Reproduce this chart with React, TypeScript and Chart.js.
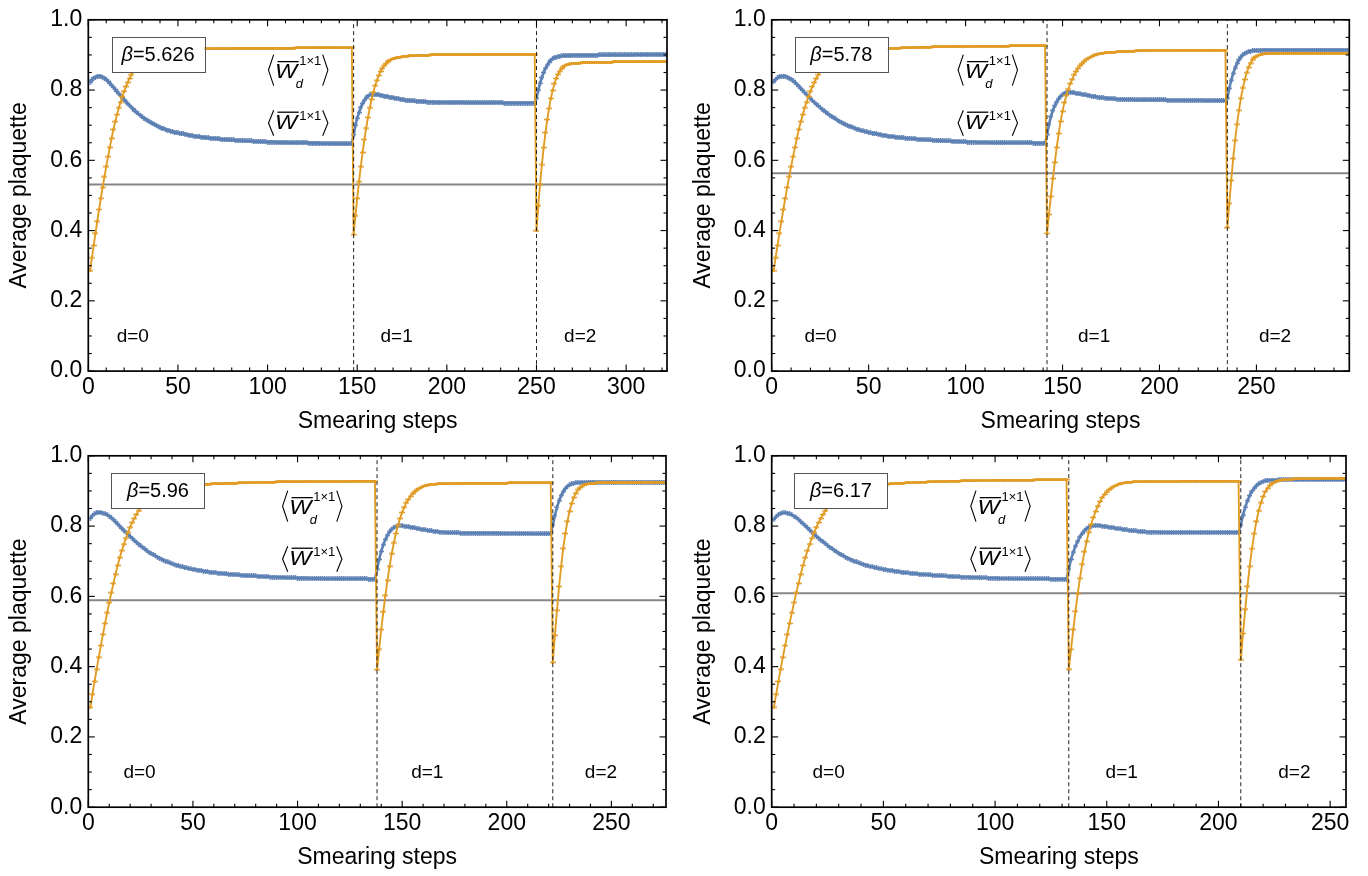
import React, { useEffect, useRef } from "react";
import { Chart, registerables } from "chart.js";
Chart.register(...registerables);

const FAMILY = "'Liberation Sans', Arial, Helvetica, sans-serif";
const ORANGE = "#E19C24";
const BLUE = "#5E81B5";

// ---------------- Panel 1 (beta = 5.626) ----------------
const P1_BETA = "5.626";
const P1_SEG_START = [1, 148, 250];
const P1_X_MAX = 322.8;
const P1_X_TICKS = [0, 50, 100, 150, 200, 250, 300];
const P1_REF = 0.531;
const P1_WD_D0 = [
  .285,.322,.358,.393,.427,.460,.492,.523,.553,.582,
  .610,.637,.663,.688,.710,.730,.749,.766,.782,.797,
  .810,.822,.833,.843,.852,.860,.867,.873,.879,.884,
  .888,.892,.895,.898,.900,.902,.904,.906,.907,.908,
  .909,.910,.911,.912,.912,.913,.913,.914,.914,.914,
  .915,.915,.915,.915,.916,.916,.916,.916,.916,.917,
  .917,.917,.917,.917,.917,.917,.917,.918,.918,.918,
  .918,.918,.918,.918,.918,.918,.918,.918,.918,.918,
  .919,.919,.919,.919,.919,.919,.919,.919,.919,.919,
  .919,.919,.919,.919,.919,.919,.919,.919,.919,.919,
  .919,.919,.919,.919,.919,.919,.919,.919,.919,.919,
  .919,.919,.919,.919,.919,.920,.920,.920,.920,.920,
  .920,.920,.920,.920,.920,.920,.920,.920,.920,.920,
  .920,.920,.920,.920,.920,.920,.920,.920,.920,.920,
  .920,.920,.920,.920,.920,.920,.920,
];
const P1_WD_D1 = [
  .388,.442,.492,.539,.582,.622,.659,.692,.722,.749,
  .773,.794,.812,.828,.842,.853,.862,.869,.875,.880,
  .884,.887,.889,.891,.892,.893,.894,.895,.895,.896,
  .896,.897,.897,.897,.898,.898,.898,.898,.899,.899,
  .899,.899,.899,.900,.900,.900,.900,.900,.900,.900,
  .901,.901,.901,.901,.901,.901,.901,.901,.901,.901,
  .901,.901,.901,.901,.901,.901,.901,.901,.901,.901,
  .902,.902,.902,.902,.902,.902,.902,.902,.902,.902,
  .902,.902,.902,.902,.902,.902,.902,.902,.902,.902,
  .902,.902,.902,.902,.902,.902,.902,.902,.902,.902,
  .902,.902,
];
const P1_WD_D2 = [
  .399,.470,.532,.587,.636,.679,.716,.748,.776,.799,
  .818,.833,.845,.854,.861,.866,.870,.872,.874,.875,
  .876,.876,.877,.877,.877,.878,.878,.878,.878,.879,
  .879,.879,.879,.879,.879,.879,.879,.879,.879,.879,
  .879,.879,.879,.880,.880,.880,.880,.880,.880,.880,
  .880,.880,.880,.880,.880,.880,.880,.880,.880,.880,
  .880,.880,.880,.880,.880,.880,.880,.880,.880,.880,
  .880,.880,.880,
];
const P1_W_D0 = [
  .822,.829,.834,.837,.839,.840,.839,.837,.834,.830,
  .825,.820,.814,.808,.802,.796,.790,.784,.778,.772,
  .767,.761,.756,.751,.746,.741,.736,.732,.728,.724,
  .720,.717,.714,.710,.707,.704,.702,.699,.697,.694,
  .692,.690,.688,.686,.685,.683,.682,.680,.679,.678,
  .677,.676,.675,.674,.673,.672,.671,.670,.669,.668,
  .668,.667,.666,.666,.665,.664,.664,.663,.663,.662,
  .662,.661,.661,.660,.660,.659,.659,.659,.658,.658,
  .658,.657,.657,.657,.656,.656,.656,.655,.655,.655,
  .655,.654,.654,.654,.654,.653,.653,.653,.653,.652,
  .652,.652,.652,.652,.651,.651,.651,.651,.651,.651,
  .650,.650,.650,.650,.650,.650,.650,.650,.650,.650,
  .650,.650,.649,.649,.649,.649,.649,.649,.649,.648,
  .648,.648,.648,.648,.648,.648,.647,.647,.647,.647,
  .647,.647,.647,.647,.647,.647,.647,
];
const P1_W_D1 = [
  .673,.700,.720,.736,.751,.762,.771,.778,.783,.786,
  .787,.788,.788,.787,.786,.785,.784,.783,.782,.781,
  .780,.779,.778,.777,.776,.775,.774,.773,.772,.771,
  .771,.770,.770,.769,.769,.768,.768,.768,.767,.767,
  .767,.766,.766,.766,.766,.765,.765,.765,.765,.765,
  .765,.765,.765,.765,.765,.765,.765,.765,.765,.765,
  .765,.765,.765,.764,.764,.764,.764,.764,.764,.764,
  .764,.764,.764,.764,.764,.764,.764,.764,.764,.764,
  .764,.764,.764,.764,.763,.763,.763,.763,.763,.763,
  .763,.763,.763,.763,.763,.763,.763,.763,.763,.763,
  .763,.763,
];
const P1_W_D2 = [
  .777,.800,.820,.836,.850,.862,.871,.879,.885,.889,
  .892,.894,.895,.896,.897,.897,.898,.898,.898,.898,
  .899,.899,.899,.899,.899,.899,.899,.899,.899,.899,
  .899,.899,.899,.899,.899,.900,.900,.900,.900,.900,
  .900,.900,.900,.900,.900,.900,.900,.900,.900,.900,
  .900,.900,.900,.900,.900,.901,.901,.901,.901,.901,
  .901,.901,.901,.901,.901,.901,.901,.901,.901,.901,
  .901,.901,.901,
];
const P1_D_LABEL_X = [24.8, 172, 274.4];
const P1_BOX = [38.9, 0.901];
const P1_LABEL_X = 116.8;

// ---------------- Panel 2 (beta = 5.78) ----------------
const P2_BETA = "5.78";
const P2_SEG_START = [1, 142, 235];
const P2_X_MAX = 297.9;
const P2_X_TICKS = [0, 50, 100, 150, 200, 250];
const P2_REF = 0.563;
const P2_WD_D0 = [
  .285,.322,.358,.393,.427,.460,.492,.523,.553,.582,
  .610,.637,.663,.688,.710,.730,.749,.766,.782,.797,
  .810,.822,.833,.843,.852,.860,.867,.873,.879,.884,
  .888,.892,.895,.898,.900,.902,.904,.906,.907,.908,
  .909,.910,.911,.912,.912,.913,.913,.914,.914,.915,
  .915,.915,.916,.916,.916,.917,.917,.917,.918,.918,
  .918,.918,.919,.919,.919,.919,.920,.920,.920,.920,
  .920,.921,.921,.921,.921,.921,.922,.922,.922,.922,
  .922,.922,.923,.923,.923,.923,.923,.923,.923,.924,
  .924,.924,.924,.924,.924,.924,.924,.924,.924,.924,
  .924,.924,.924,.925,.925,.925,.925,.925,.925,.925,
  .925,.925,.925,.925,.925,.925,.925,.925,.925,.925,
  .925,.925,.926,.926,.926,.926,.926,.926,.926,.926,
  .926,.926,.926,.926,.926,.926,.926,.926,.926,.926,
  .926,
];
const P2_WD_D1 = [
  .392,.446,.498,.548,.594,.637,.676,.711,.740,.765,
  .785,.803,.818,.831,.843,.853,.862,.869,.875,.881,
  .886,.890,.893,.896,.898,.900,.902,.903,.904,.905,
  .906,.906,.907,.907,.908,.908,.909,.909,.909,.910,
  .910,.910,.911,.911,.911,.911,.912,.912,.912,.912,
  .912,.912,.913,.913,.913,.913,.913,.913,.913,.913,
  .913,.913,.913,.913,.913,.913,.913,.913,.913,.913,
  .914,.914,.914,.914,.914,.914,.914,.914,.914,.914,
  .914,.914,.914,.914,.914,.914,.914,.914,.914,.914,
  .914,.914,.914,
];
const P2_WD_D2 = [
  .408,.478,.543,.605,.657,.703,.743,.777,.806,.830,
  .849,.865,.877,.886,.892,.896,.899,.901,.902,.903,
  .903,.904,.904,.904,.904,.904,.904,.905,.905,.905,
  .905,.905,.905,.905,.905,.905,.905,.905,.905,.905,
  .905,.905,.905,.905,.905,.905,.905,.905,.905,.905,
  .905,.905,.905,.905,.905,.905,.905,.905,.905,.905,
  .905,.905,.905,
];
const P2_W_D0 = [
  .823,.830,.835,.838,.839,.840,.839,.837,.834,.831,
  .827,.822,.817,.811,.805,.799,.793,.787,.781,.776,
  .770,.765,.760,.755,.750,.745,.741,.737,.733,.729,
  .725,.721,.718,.714,.711,.708,.705,.702,.700,.697,
  .695,.693,.691,.689,.687,.685,.684,.682,.681,.679,
  .678,.677,.676,.675,.674,.673,.672,.671,.670,.669,
  .668,.668,.667,.666,.666,.665,.664,.664,.663,.663,
  .662,.662,.661,.661,.660,.660,.659,.659,.659,.658,
  .658,.658,.657,.657,.657,.656,.656,.656,.655,.655,
  .655,.655,.654,.654,.654,.654,.653,.653,.653,.653,
  .652,.652,.652,.652,.652,.651,.651,.651,.651,.651,
  .651,.651,.650,.650,.650,.650,.650,.650,.650,.650,
  .650,.650,.650,.650,.650,.650,.650,.650,.650,.650,
  .650,.650,.650,.650,.649,.649,.649,.649,.649,.649,
  .649,
];
const P2_W_D1 = [
  .673,.702,.725,.742,.755,.766,.775,.782,.787,.791,
  .793,.794,.794,.793,.792,.791,.790,.789,.788,.787,
  .786,.785,.784,.783,.782,.781,.780,.779,.778,.778,
  .777,.777,.776,.776,.775,.775,.774,.774,.774,.774,
  .773,.773,.773,.773,.773,.772,.772,.772,.772,.772,
  .772,.772,.772,.772,.772,.772,.772,.772,.772,.772,
  .772,.772,.771,.771,.771,.771,.771,.771,.771,.771,
  .771,.771,.771,.771,.771,.771,.771,.771,.771,.771,
  .771,.770,.770,.770,.770,.770,.770,.770,.770,.770,
  .770,.770,.770,
];
const P2_W_D2 = [
  .777,.805,.828,.847,.863,.876,.886,.894,.900,.904,
  .907,.909,.911,.912,.913,.913,.913,.913,.914,.914,
  .914,.914,.914,.914,.914,.914,.914,.914,.914,.914,
  .914,.914,.914,.914,.914,.914,.914,.914,.914,.914,
  .914,.914,.914,.914,.914,.914,.914,.914,.914,.914,
  .914,.914,.914,.914,.914,.914,.914,.914,.914,.914,
  .914,.914,.914,
];
const P2_D_LABEL_X = [25.2, 166.3, 259.6];
const P2_BOX = [35.9, 0.901];
const P2_LABEL_X = 111.2;

// ---------------- Panel 3 (beta = 5.96) ----------------
const P3_BETA = "5.96";
const P3_SEG_START = [1, 138, 222];
const P3_X_MAX = 276.1;
const P3_X_TICKS = [0, 50, 100, 150, 200, 250];
const P3_REF = 0.589;
const P3_WD_D0 = [
  .285,.322,.358,.393,.427,.460,.492,.523,.553,.582,
  .610,.637,.663,.688,.710,.730,.749,.766,.782,.797,
  .810,.822,.833,.843,.852,.860,.867,.873,.879,.884,
  .888,.892,.895,.898,.900,.902,.904,.906,.907,.908,
  .910,.911,.912,.913,.914,.914,.915,.915,.916,.916,
  .917,.917,.918,.918,.918,.919,.919,.919,.920,.920,
  .920,.920,.921,.921,.921,.921,.922,.922,.922,.922,
  .922,.923,.923,.923,.923,.923,.924,.924,.924,.924,
  .924,.924,.925,.925,.925,.925,.925,.925,.925,.926,
  .926,.926,.926,.926,.926,.926,.926,.926,.926,.926,
  .926,.926,.926,.926,.927,.927,.927,.927,.927,.927,
  .927,.927,.927,.927,.927,.927,.927,.927,.927,.927,
  .927,.927,.927,.928,.928,.928,.928,.928,.928,.928,
  .928,.928,.928,.928,.928,.928,.928,
];
const P3_WD_D1 = [
  .391,.450,.505,.556,.603,.646,.686,.721,.752,.779,
  .802,.822,.839,.854,.866,.876,.885,.892,.898,.903,
  .907,.910,.913,.915,.916,.917,.918,.919,.919,.920,
  .920,.920,.920,.921,.921,.921,.921,.921,.921,.921,
  .922,.922,.922,.922,.922,.922,.922,.922,.922,.922,
  .922,.922,.922,.922,.922,.922,.922,.922,.922,.922,
  .922,.922,.922,.923,.923,.923,.923,.923,.923,.923,
  .923,.923,.923,.923,.923,.923,.923,.923,.923,.923,
  .923,.923,.923,.923,
];
const P3_WD_D2 = [
  .412,.489,.561,.628,.686,.737,.779,.814,.842,.864,
  .881,.894,.903,.909,.914,.917,.919,.920,.921,.922,
  .922,.923,.923,.923,.923,.924,.924,.924,.924,.924,
  .924,.924,.924,.924,.924,.924,.924,.924,.924,.924,
  .924,.924,.925,.925,.925,.925,.925,.925,.925,.925,
  .925,.925,.925,.925,.925,
];
const P3_W_D0 = [
  .822,.830,.835,.838,.839,.839,.837,.835,.832,.828,
  .823,.818,.812,.806,.800,.794,.788,.782,.776,.770,
  .765,.759,.754,.749,.744,.739,.735,.730,.726,.722,
  .719,.715,.712,.709,.706,.703,.700,.698,.695,.693,
  .691,.689,.687,.685,.684,.682,.681,.679,.678,.677,
  .676,.675,.674,.673,.672,.671,.670,.669,.668,.668,
  .667,.666,.666,.665,.664,.664,.663,.663,.662,.662,
  .661,.661,.660,.660,.659,.659,.659,.658,.658,.658,
  .657,.657,.657,.656,.656,.656,.655,.655,.655,.655,
  .654,.654,.654,.654,.653,.653,.653,.653,.653,.652,
  .652,.652,.652,.652,.652,.651,.651,.651,.651,.651,
  .651,.651,.651,.650,.650,.650,.650,.650,.650,.650,
  .650,.650,.650,.650,.650,.650,.650,.650,.650,.650,
  .650,.650,.650,.649,.649,.649,.649,
];
const P3_W_D1 = [
  .677,.705,.728,.747,.762,.774,.784,.791,.796,.799,
  .801,.801,.801,.800,.799,.798,.797,.796,.795,.793,
  .792,.791,.790,.789,.788,.787,.786,.785,.785,.784,
  .783,.783,.782,.782,.781,.781,.781,.781,.781,.781,
  .780,.780,.780,.780,.780,.780,.780,.780,.780,.780,
  .780,.780,.780,.780,.780,.780,.780,.780,.780,.779,
  .779,.779,.779,.779,.779,.779,.779,.779,.779,.779,
  .779,.779,.779,.779,.778,.778,.778,.778,.778,.778,
  .778,.778,.778,.778,
];
const P3_W_D2 = [
  .803,.831,.854,.872,.887,.898,.907,.913,.917,.920,
  .922,.923,.924,.924,.924,.924,.924,.925,.925,.925,
  .925,.925,.925,.925,.925,.925,.925,.925,.925,.925,
  .925,.925,.925,.925,.925,.925,.925,.925,.925,.925,
  .925,.925,.925,.925,.925,.925,.925,.925,.925,.925,
  .925,.925,.925,.925,.925,
];
const P3_D_LABEL_X = [24.5, 162, 245];
const P3_BOX = [33.3, 0.901];
const P3_LABEL_X = 106.8;

// ---------------- Panel 4 (beta = 6.17) ----------------
const P4_BETA = "6.17";
const P4_SEG_START = [1, 133, 210];
const P4_X_MAX = 257.1;
const P4_X_TICKS = [0, 50, 100, 150, 200, 250];
const P4_REF = 0.609;
const P4_WD_D0 = [
  .285,.322,.358,.393,.427,.460,.492,.523,.553,.582,
  .610,.637,.663,.688,.710,.730,.749,.766,.782,.797,
  .810,.822,.833,.843,.852,.860,.867,.873,.879,.884,
  .888,.892,.895,.898,.900,.902,.904,.906,.907,.908,
  .910,.911,.912,.913,.914,.915,.916,.917,.917,.918,
  .919,.919,.920,.920,.921,.921,.922,.922,.922,.923,
  .923,.923,.924,.924,.924,.925,.925,.925,.925,.926,
  .926,.926,.926,.927,.927,.927,.927,.927,.928,.928,
  .928,.928,.928,.928,.929,.929,.929,.929,.929,.929,
  .929,.930,.930,.930,.930,.930,.930,.930,.930,.930,
  .931,.931,.931,.931,.931,.931,.931,.931,.931,.931,
  .931,.931,.931,.931,.931,.931,.931,.932,.932,.932,
  .932,.932,.932,.932,.932,.932,.932,.932,.932,.932,
  .932,.932,
];
const P4_WD_D1 = [
  .393,.450,.506,.558,.607,.652,.692,.727,.757,.783,
  .805,.825,.842,.857,.870,.881,.890,.897,.903,.908,
  .912,.915,.918,.920,.922,.923,.924,.925,.925,.926,
  .926,.926,.926,.927,.927,.927,.927,.927,.927,.927,
  .927,.927,.927,.927,.927,.927,.927,.927,.927,.927,
  .928,.928,.928,.928,.928,.928,.928,.928,.928,.928,
  .928,.928,.928,.928,.928,.928,.928,.928,.928,.928,
  .928,.928,.928,.928,.928,.928,.928,
];
const P4_WD_D2 = [
  .419,.494,.564,.629,.686,.735,.778,.814,.843,.866,
  .884,.898,.908,.916,.921,.925,.928,.930,.931,.932,
  .932,.933,.933,.933,.934,.934,.934,.934,.935,.935,
  .935,.935,.935,.935,.935,.935,.936,.936,.936,.936,
  .936,.936,.936,.936,.936,.936,.936,.936,
];
const P4_W_D0 = [
  .819,.827,.833,.836,.838,.838,.837,.835,.832,.828,
  .824,.819,.813,.807,.801,.795,.789,.783,.777,.771,
  .766,.760,.755,.750,.745,.740,.736,.731,.727,.723,
  .719,.716,.712,.709,.706,.703,.700,.698,.695,.693,
  .691,.689,.687,.685,.684,.682,.681,.679,.678,.677,
  .676,.675,.674,.673,.672,.671,.670,.669,.668,.667,
  .667,.666,.665,.665,.664,.663,.663,.662,.662,.661,
  .661,.660,.660,.659,.659,.659,.658,.658,.657,.657,
  .657,.656,.656,.656,.655,.655,.655,.655,.654,.654,
  .654,.654,.653,.653,.653,.653,.652,.652,.652,.652,
  .652,.651,.651,.651,.651,.651,.651,.650,.650,.650,
  .650,.650,.650,.650,.650,.650,.650,.650,.650,.650,
  .650,.650,.650,.650,.649,.649,.649,.649,.649,.649,
  .649,.649,
];
const P4_W_D1 = [
  .677,.705,.726,.743,.757,.769,.779,.787,.793,.797,
  .800,.801,.802,.802,.801,.800,.799,.798,.797,.796,
  .795,.794,.793,.792,.791,.790,.789,.788,.787,.786,
  .786,.785,.785,.784,.784,.783,.783,.783,.783,.783,
  .783,.782,.782,.782,.782,.782,.782,.782,.782,.782,
  .782,.782,.782,.782,.782,.782,.782,.782,.782,.782,
  .782,.782,.782,.782,.782,.782,.782,.782,.782,.782,
  .782,.782,.782,.782,.782,.782,.782,
];
const P4_W_D2 = [
  .803,.831,.854,.872,.887,.899,.908,.915,.920,.924,
  .927,.929,.930,.931,.931,.931,.931,.932,.932,.932,
  .932,.932,.932,.932,.932,.932,.932,.932,.932,.932,
  .932,.932,.932,.932,.932,.932,.932,.932,.932,.932,
  .932,.932,.932,.932,.932,.932,.932,.932,
];
const P4_D_LABEL_X = [25.5, 156.7, 234];
const P4_BOX = [31.0, 0.901];
const P4_LABEL_X = 102.2;

const D_LABELS = ["d=0", "d=1", "d=2"];
const D_LABEL_Y = 0.097;
const WD_LABEL_Y = 0.834;
const W_LABEL_Y = 0.690;
const Y_TICKS = [0, 0.2, 0.4, 0.6, 0.8, 1.0];
const X_TICK_STEP = 50;
const X_MINOR_STEP = 10;
const Y_TICK_STEP = 0.2;
const Y_MINOR_STEP = 0.05;

type PanelData = {
  beta: string; starts: number[]; xMax: number; xTicks: number[]; ref: number;
  wd: number[][]; w: number[][]; dX: number[]; box: number[]; labX: number;
};

const PANELS: PanelData[] = [
  { beta: P1_BETA, starts: P1_SEG_START, xMax: P1_X_MAX, xTicks: P1_X_TICKS, ref: P1_REF, wd: [P1_WD_D0, P1_WD_D1, P1_WD_D2], w: [P1_W_D0, P1_W_D1, P1_W_D2], dX: P1_D_LABEL_X, box: P1_BOX, labX: P1_LABEL_X },
  { beta: P2_BETA, starts: P2_SEG_START, xMax: P2_X_MAX, xTicks: P2_X_TICKS, ref: P2_REF, wd: [P2_WD_D0, P2_WD_D1, P2_WD_D2], w: [P2_W_D0, P2_W_D1, P2_W_D2], dX: P2_D_LABEL_X, box: P2_BOX, labX: P2_LABEL_X },
  { beta: P3_BETA, starts: P3_SEG_START, xMax: P3_X_MAX, xTicks: P3_X_TICKS, ref: P3_REF, wd: [P3_WD_D0, P3_WD_D1, P3_WD_D2], w: [P3_W_D0, P3_W_D1, P3_W_D2], dX: P3_D_LABEL_X, box: P3_BOX, labX: P3_LABEL_X },
  { beta: P4_BETA, starts: P4_SEG_START, xMax: P4_X_MAX, xTicks: P4_X_TICKS, ref: P4_REF, wd: [P4_WD_D0, P4_WD_D1, P4_WD_D2], w: [P4_W_D0, P4_W_D1, P4_W_D2], dX: P4_D_LABEL_X, box: P4_BOX, labX: P4_LABEL_X },
];

// Layout (pixel placement of each panel)
const LAYOUT = [
  { left: 0, top: 0, width: 684, height: 445, l: 88.3, r: 667, t: 15.6, b: 371.1 },
  { left: 684, top: 0, width: 684, height: 445, l: 87.7, r: 665.3, t: 15.6, b: 371.1 },
  { left: 0, top: 436, width: 684, height: 440, l: 88.3, r: 666, t: 15.7, b: 371.2 },
  { left: 684, top: 436, width: 684, height: 440, l: 87.7, r: 662, t: 15.7, b: 371.2 },
];
const X_AXIS_H = 66;
const AXIS_FONT_SIZE = 23;

function toPoints(segs: number[][], starts: number[]) {
  const pts: { x: number; y: number }[] = [];
  segs.forEach((seg, k) => seg.forEach((y, i) => pts.push({ x: starts[k] + i, y })));
  return pts;
}

function makeMark(color: string, w: number, h: number, t: number) {
  const c = document.createElement("canvas");
  c.width = w; c.height = h;
  const g = c.getContext("2d")!;
  g.fillStyle = color;
  g.fillRect(0, (h - t) / 2, w, t);
  g.fillRect((w - t) / 2, 0, t, h);
  return c;
}

function drawBracket(ctx: CanvasRenderingContext2D, x: number, top: number, bot: number, open: boolean) {
  const mid = (top + bot) / 2;
  ctx.beginPath();
  if (open) { ctx.moveTo(x + 6, top); ctx.lineTo(x + 0.8, mid); ctx.lineTo(x + 6, bot); }
  else { ctx.moveTo(x, top); ctx.lineTo(x + 5.2, mid); ctx.lineTo(x, bot); }
  ctx.stroke();
}

function drawWLabel(ctx: CanvasRenderingContext2D, cx: number, B: number, sub: boolean) {
  const L = cx - 30;
  ctx.save();
  ctx.fillStyle = "#000"; ctx.strokeStyle = "#000"; ctx.lineWidth = 1.1;
  ctx.textBaseline = "alphabetic"; ctx.textAlign = "left";
  const top = sub ? B - 23.5 : B - 18.5;
  const bot = sub ? B + 7.5 : B + 7;
  drawBracket(ctx, L, top, bot, true);
  ctx.save();
  ctx.translate(L + 7.4, B);
  ctx.scale(1.18, 1);
  ctx.font = `italic 20px ${FAMILY}`;
  ctx.fillText("W", 0, 0);
  ctx.restore();
  ctx.lineWidth = 1.3;
  ctx.beginPath(); ctx.moveTo(L + 9.8, B - 16.5); ctx.lineTo(L + 31, B - 16.5); ctx.stroke();
  ctx.font = `13px ${FAMILY}`;
  ctx.fillText("1\u00d71", L + 31.5, sub ? B - 13.5 : B - 9);
  if (sub) { ctx.font = `italic 13px ${FAMILY}`; ctx.fillText("d", L + 28, B + 9.5); }
  ctx.lineWidth = 1.1;
  drawBracket(ctx, L + 55, top, bot, false);
  ctx.restore();
}

const decoPlugin = {
  id: "panelDeco",
  afterDatasetsDraw(chart: any, _args: any, opts: any) {
    const { ctx, scales: { x, y } } = chart;
    const p: PanelData = opts.panel;
    ctx.save();
    ctx.fillStyle = "#000";
    ctx.font = `19px ${FAMILY}`;
    ctx.textAlign = "center"; ctx.textBaseline = "middle";
    p.dX.forEach((dx, i) => ctx.fillText(D_LABELS[i], x.getPixelForValue(dx), y.getPixelForValue(D_LABEL_Y)));
    const bx = x.getPixelForValue(p.box[0]);
    const by = y.getPixelForValue(p.box[1]);
    const bw = 93, bh = 35;
    ctx.fillStyle = "#fff";
    ctx.fillRect(bx - bw / 2, by - bh / 2, bw, bh);
    ctx.strokeStyle = "#555"; ctx.lineWidth = 1;
    ctx.strokeRect(Math.round(bx - bw / 2) + 0.5, Math.round(by - bh / 2) + 0.5, bw, bh);
    ctx.fillStyle = "#000";
    ctx.textAlign = "left";
    ctx.font = `italic 20px ${FAMILY}`;
    const wb = ctx.measureText("\u03b2").width;
    ctx.font = `20px ${FAMILY}`;
    const rest = "=" + p.beta;
    const wr = ctx.measureText(rest).width;
    const sx = bx - (wb + wr) / 2;
    ctx.font = `italic 20px ${FAMILY}`;
    ctx.fillText("\u03b2", sx, by + 1);
    ctx.font = `20px ${FAMILY}`;
    ctx.fillText(rest, sx + wb, by + 1);
    const lx = x.getPixelForValue(p.labX);
    drawWLabel(ctx, lx, y.getPixelForValue(WD_LABEL_Y), true);
    drawWLabel(ctx, lx, y.getPixelForValue(W_LABEL_Y), false);
    ctx.restore();
  },
  afterDraw(chart: any, _args: any, opts: any) {
    const { ctx, chartArea: { left, right, top, bottom }, scales: { x, y } } = chart;
    const p: PanelData = opts.panel;
    ctx.save();
    ctx.strokeStyle = "#000";
    ctx.lineWidth = 1.1;
    const seg = (x1: number, y1: number, x2: number, y2: number) => { ctx.beginPath(); ctx.moveTo(x1, y1); ctx.lineTo(x2, y2); ctx.stroke(); };
    const nX = Math.floor(p.xMax / X_MINOR_STEP + 1e-9);
    for (let i = 0; i <= nX; i++) {
      const v = i * X_MINOR_STEP;
      const px = x.getPixelForValue(v);
      const len = v % X_TICK_STEP === 0 ? 6.5 : 3.5;
      seg(px, bottom, px, bottom - len);
      seg(px, top, px, top + len);
    }
    const nY = Math.round(1 / Y_MINOR_STEP);
    const per = Math.round(Y_TICK_STEP / Y_MINOR_STEP);
    for (let i = 0; i <= nY; i++) {
      const py = y.getPixelForValue(i * Y_MINOR_STEP);
      const len = i % per === 0 ? 6.5 : 3.5;
      seg(left, py, left + len, py);
      seg(right, py, right - len, py);
    }
    ctx.lineWidth = 1.7;
    ctx.strokeRect(left, top, right - left, bottom - top);
    ctx.restore();
  },
};

function buildConfig(p: PanelData, lay: typeof LAYOUT[0], orangeMark: HTMLCanvasElement, blueMark: HTMLCanvasElement): any {
  const bounds = p.starts.slice(1);
  const datasets: any[] = [];
  bounds.forEach((b, i) => datasets.push({
    label: "bound" + i, data: [{ x: b, y: 0 }, { x: b, y: 1 }],
    borderColor: "#222", borderWidth: 1, borderDash: [4, 3], pointRadius: 0, order: 0,
  }));
  datasets.push({
    label: "Wd", data: toPoints(p.wd, p.starts), borderColor: ORANGE, borderWidth: 1.9,
    pointStyle: orangeMark, pointRadius: 3, pointHoverRadius: 3, order: 1,
  });
  datasets.push({
    label: "W", data: toPoints(p.w, p.starts), borderColor: BLUE, borderWidth: 2.6,
    pointStyle: blueMark, pointRadius: 3, pointHoverRadius: 3, order: 2,
  });
  datasets.push({
    label: "ref", data: [{ x: 0, y: p.ref }, { x: p.xMax, y: p.ref }],
    borderColor: "#868686", borderWidth: 2, pointRadius: 0, order: 3,
  });
  const font = { family: FAMILY, size: AXIS_FONT_SIZE };
  return {
    type: "line",
    data: { datasets },
    options: {
      animation: false, responsive: false, maintainAspectRatio: false, events: [],
      layout: { padding: { left: 0, right: lay.width - lay.r, top: lay.t, bottom: lay.height - lay.b - X_AXIS_H } },
      plugins: { legend: { display: false }, tooltip: { enabled: false }, panelDeco: { panel: p } },
      scales: {
        x: {
          type: "linear", min: 0, max: p.xMax,
          grid: { display: false, drawTicks: false }, border: { display: false },
          ticks: { padding: 3, color: "#000", font, maxRotation: 0, autoSkip: false, callback: (v: number) => String(Math.round(v)) },
          afterBuildTicks: (s: any) => { s.ticks = p.xTicks.map((v) => ({ value: v })); },
          title: { display: true, text: "Smearing steps", color: "#000", font, padding: { top: 0, bottom: 2 } },
          afterFit: (s: any) => { s.height = X_AXIS_H; },
        },
        y: {
          type: "linear", min: 0, max: 1,
          grid: { display: false, drawTicks: false }, border: { display: false },
          ticks: { padding: 6, color: "#000", font, callback: (v: number) => Number(v).toFixed(1) },
          afterBuildTicks: (s: any) => { s.ticks = Y_TICKS.map((v) => ({ value: v })); },
          title: { display: true, text: "Average plaquette", color: "#000", font, padding: { top: 6, bottom: 0 } },
          afterFit: (s: any) => { s.width = lay.l; },
        },
      },
    },
    plugins: [decoPlugin],
  };
}

function Panel({ p, lay }: { p: PanelData; lay: typeof LAYOUT[0] }) {
  const ref = useRef<HTMLCanvasElement>(null);
  useEffect(() => {
    const c = ref.current;
    if (!c) return;
    const orangeMark = makeMark(ORANGE, 6, 3, 1.5);
    const blueMark = makeMark(BLUE, 5, 5, 1.5);
    const chart = new Chart(c, buildConfig(p, lay, orangeMark, blueMark));
    return () => chart.destroy();
  }, []);
  return (
    <canvas ref={ref} width={lay.width} height={lay.height}
      style={{ position: "absolute", left: lay.left, top: lay.top, width: lay.width, height: lay.height }} />
  );
}

export default function App() {
  return (
    <div style={{ position: "absolute", left: 0, top: 0, width: 1368, height: 876, background: "#fff", overflow: "hidden" }}>
      {PANELS.map((p, i) => <Panel key={i} p={p} lay={LAYOUT[i]} />)}
    </div>
  );
}
